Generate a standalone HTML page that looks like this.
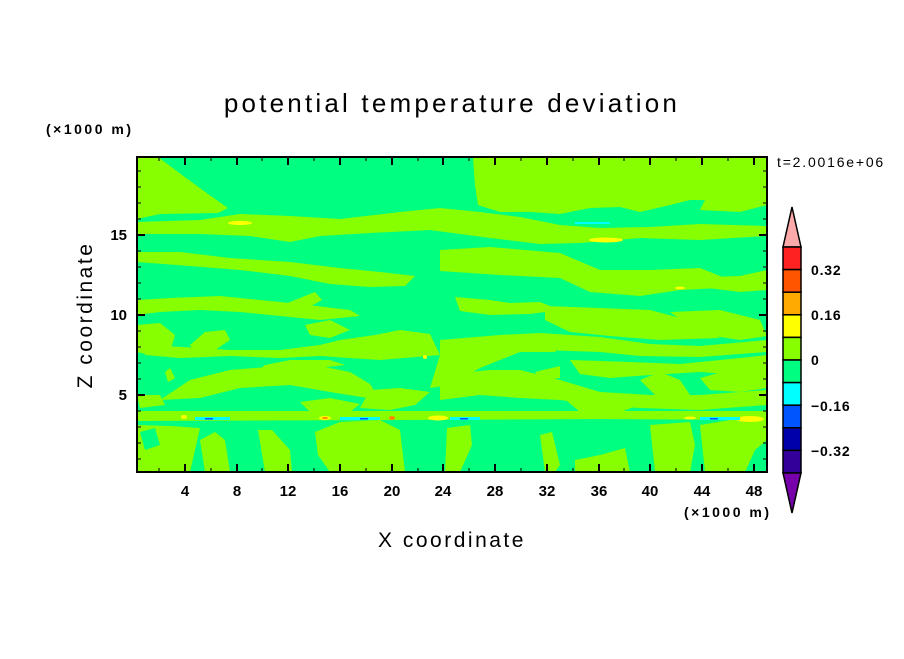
<!DOCTYPE html>
<html><head><style>
body{margin:0;background:#fff;}
svg text{font-family:"Liberation Sans",sans-serif;}
</style></head><body>
<svg width="904" height="654" viewBox="0 0 904 654" xmlns="http://www.w3.org/2000/svg">
<rect width="904" height="654" fill="#fff"/>
<defs><clipPath id="c"><rect x="137" y="157" width="630" height="315"/></clipPath></defs>
<g clip-path="url(#c)">
<rect x="137" y="157" width="630" height="315" fill="#00ff80"/>
<g fill="#88ff00">
<polygon points="137,157 158,157 178,172 208,194 228,208 218,213 160,214 137,219"/>
<polygon points="473,157 767,157 767,205 740,212 700,210 705,200 690,200 670,205 640,212 620,207 590,208 560,214 530,212 500,212 478,205 475,185"/>
<polygon points="410,214 430,209 450,212 440,218 420,219"/>
<polygon points="137,222 200,220 240,214 290,216 340,219 400,212 440,208 480,212 520,217 560,225 600,228 650,227 700,224 767,226 767,236 700,240 640,238 580,243 540,244 490,238 430,230 370,233 320,236 290,242 250,236 200,234 137,234"/>
<polygon points="137,252 180,252 230,258 290,262 340,268 380,272 415,276 405,286 370,287 330,284 290,276 240,270 190,266 137,262"/>
<polygon points="440,250 490,247 560,253 600,270 650,270 700,268 730,280 720,288 680,290 640,296 590,292 560,278 500,275 440,271"/>
<polygon points="600,285 640,282 680,278 740,276 767,270 767,290 740,292 700,287 650,294 620,294"/>
<polygon points="137,300 170,298 220,296 260,300 300,304 350,310 360,316 320,320 280,316 240,312 200,310 160,312 137,315"/>
<polygon points="280,306 315,292 322,300 300,312"/>
<polygon points="455,297 490,300 510,303 540,302 560,310 530,314 490,315 460,311"/>
<polygon points="545,306 600,308 650,310 680,318 700,328 720,338 660,340 610,336 570,332 545,320"/>
<polygon points="670,312 720,310 760,320 767,336 740,340 700,334"/>
<polygon points="137,325 160,323 175,335 170,352 150,355 137,352"/>
<polygon points="190,345 205,332 225,330 230,340 215,350 195,354"/>
<polygon points="150,345 230,350 280,350 320,345 340,340 375,335 400,330 430,334 440,355 380,360 320,356 280,358 230,356 180,358 145,355"/>
<polygon points="305,325 330,320 350,330 330,338 310,335"/>
<polygon points="440,340 500,335 540,333 600,337 650,344 700,346 767,340 767,352 700,357 640,356 600,352 540,350 480,352 440,356"/>
<polygon points="480,342 520,340 560,345 555,352 500,352"/>
<polygon points="440,355 470,347 500,345 520,352 480,368 450,385 430,388"/>
<polygon points="535,372 560,366 560,378 540,380"/>
<polygon points="570,360 630,362 680,364 740,358 767,355 767,370 740,375 700,372 650,375 610,378 580,374"/>
<polygon points="160,400 190,380 230,370 280,366 320,366 350,372 370,384 380,400 330,392 290,385 240,388 200,398"/>
<polygon points="165,372 170,368 175,378 168,382"/>
<polygon points="250,378 265,365 290,360 330,360 345,365 300,370"/>
<polygon points="137,395 160,395 165,405 140,408"/>
<polygon points="370,390 400,388 430,392 415,405 390,410 360,408"/>
<polygon points="440,375 490,370 520,370 560,380 600,392 650,395 700,395 767,390 767,405 700,410 640,408 600,405 560,400 520,398 480,395 440,400"/>
<polygon points="640,380 660,372 680,380 690,395 660,400"/>
<polygon points="700,378 730,370 767,368 767,388 740,392 710,390"/>
<polygon points="137,411 767,411 767,420 600,419 400,420 137,421"/>
<polygon points="300,402 330,398 360,404 350,412 310,412"/>
<polygon points="560,395 600,395 640,405 620,412 580,412"/>
<polygon points="137,425 170,426 200,428 195,450 190,472 137,472"/>
<polygon points="140,432 155,428 160,445 145,450" fill="#00ff80"/>
<polygon points="200,440 215,432 225,440 230,472 205,472"/>
<polygon points="258,430 272,430 290,450 292,472 265,472"/>
<polygon points="315,432 340,422 380,420 400,430 405,472 330,472 318,455"/>
<polygon points="447,428 470,425 472,445 460,472 445,472"/>
<polygon points="540,435 552,432 560,465 555,472 545,472"/>
<polygon points="575,460 600,455 625,448 630,472 575,472"/>
<polygon points="650,425 690,422 695,445 690,472 655,472"/>
<polygon points="700,425 730,420 767,420 767,440 755,450 745,472 705,472"/>
</g>
<g fill="#ffff00">
<ellipse cx="240" cy="223" rx="12" ry="2"/>
<ellipse cx="606" cy="240" rx="17" ry="2.5"/>
<ellipse cx="680" cy="288" rx="5" ry="1.5"/>
<ellipse cx="425" cy="357" rx="2" ry="2"/>
<ellipse cx="325" cy="418" rx="6" ry="2"/>
<ellipse cx="438" cy="418" rx="10" ry="2.5"/>
<ellipse cx="750" cy="419" rx="14" ry="3"/>
<ellipse cx="690" cy="418" rx="6" ry="1.5"/>
<ellipse cx="184" cy="417" rx="3" ry="2"/>
</g>
<g fill="#ff8800"><ellipse cx="392" cy="418" rx="3" ry="2"/><ellipse cx="325" cy="418" rx="3" ry="1"/></g>
<g fill="#00ffff">
<rect x="195" y="417" width="35" height="3"/>
<rect x="340" y="417" width="40" height="3"/>
<rect x="450" y="417" width="30" height="3"/>
<rect x="700" y="417" width="40" height="3"/>
<rect x="575" y="222" width="35" height="2"/>
</g>
<g fill="#0055ff">
<rect x="205" y="418" width="8" height="1.5"/><rect x="360" y="418" width="8" height="1.5"/><rect x="460" y="418" width="8" height="1.5"/><rect x="710" y="418" width="8" height="1.5"/>
</g>
</g>
<rect x="137" y="157" width="630" height="315" fill="none" stroke="#000" stroke-width="2"/>
<g stroke="#000" stroke-width="2">
<path d="M185,472v-8M237,472v-8M288,472v-8M340,472v-8M392,472v-8M443,472v-8M495,472v-8M547,472v-8M599,472v-8M650,472v-8M702,472v-8M754,472v-8"/>
<path d="M185,157v8M237,157v8M288,157v8M340,157v8M392,157v8M443,157v8M495,157v8M547,157v8M599,157v8M650,157v8M702,157v8M754,157v8"/>
<path d="M137,395h8M137,315h8M137,235h8M767,395h-8M767,315h-8M767,235h-8"/>
</g>
<g stroke="#000" stroke-width="1">
<path d="M159,472v-4M211,472v-4M262,472v-4M314,472v-4M366,472v-4M418,472v-4M469,472v-4M521,472v-4M573,472v-4M624,472v-4M676,472v-4M728,472v-4"/>
<path d="M159,157v4M211,157v4M262,157v4M314,157v4M366,157v4M418,157v4M469,157v4M521,157v4M573,157v4M624,157v4M676,157v4M728,157v4"/>
<path d="M137,459h4M137,443h4M137,427h4M137,411h4M137,379h4M137,363h4M137,347h4M137,331h4M137,299h4M137,283h4M137,267h4M137,251h4M137,219h4M137,203h4M137,187h4M137,171h4"/>
<path d="M767,459h-4M767,443h-4M767,427h-4M767,411h-4M767,379h-4M767,363h-4M767,347h-4M767,331h-4M767,299h-4M767,283h-4M767,267h-4M767,251h-4M767,219h-4M767,203h-4M767,187h-4M767,171h-4"/>
</g>
<g font-size="15" fill="#000" text-anchor="middle" font-weight="bold">
<text x="185" y="496">4</text><text x="237" y="496">8</text><text x="288" y="496">12</text><text x="340" y="496">16</text><text x="392" y="496">20</text><text x="443" y="496">24</text><text x="495" y="496">28</text><text x="547" y="496">32</text><text x="599" y="496">36</text><text x="650" y="496">40</text><text x="702" y="496">44</text><text x="754" y="496">48</text>
</g>
<g font-size="15" fill="#000" text-anchor="end" font-weight="bold">
<text x="127" y="400">5</text><text x="127" y="320">10</text><text x="127" y="240">15</text>
</g>
<text x="452" y="112" font-size="26" text-anchor="middle" letter-spacing="3.2">potential temperature deviation</text>
<text x="452" y="547" font-size="21" text-anchor="middle" letter-spacing="2.5">X coordinate</text>
<text transform="translate(92,315) rotate(-90)" font-size="21" text-anchor="middle" letter-spacing="2.5">Z coordinate</text>
<text x="46" y="134" font-size="14" letter-spacing="2.5" font-weight="bold">(×1000 m)</text>
<text x="684" y="517" font-size="14" letter-spacing="2.5" font-weight="bold">(×1000 m)</text>
<text x="777" y="167" font-size="14" letter-spacing="1.8">t=2.0016e+06</text>
<g stroke="#000" stroke-width="1.5">
<polygon points="792,207 801,247 783,247" fill="#ffaaaa"/>
<rect x="783" y="247" width="18" height="22.6" fill="#ff2222"/>
<rect x="783" y="269.6" width="18" height="22.6" fill="#ff5500"/>
<rect x="783" y="292.2" width="18" height="22.6" fill="#ffaa00"/>
<rect x="783" y="314.8" width="18" height="22.6" fill="#ffff00"/>
<rect x="783" y="337.4" width="18" height="22.6" fill="#88ff00"/>
<rect x="783" y="360" width="18" height="22.6" fill="#00ff80"/>
<rect x="783" y="382.6" width="18" height="22.6" fill="#00ffff"/>
<rect x="783" y="405.2" width="18" height="22.6" fill="#0055ff"/>
<rect x="783" y="427.8" width="18" height="22.6" fill="#0000aa"/>
<rect x="783" y="450.4" width="18" height="22.6" fill="#330099"/>
<polygon points="783,473 801,473 792,513" fill="#7700aa"/>
</g>
<g font-size="14" font-weight="bold" fill="#000" letter-spacing="0.8">
<text x="811" y="275">0.32</text><text x="811" y="320">0.16</text><text x="811" y="365">0</text><text x="811" y="411">−0.16</text><text x="811" y="456">−0.32</text>
</g>
</svg>
</body></html>
